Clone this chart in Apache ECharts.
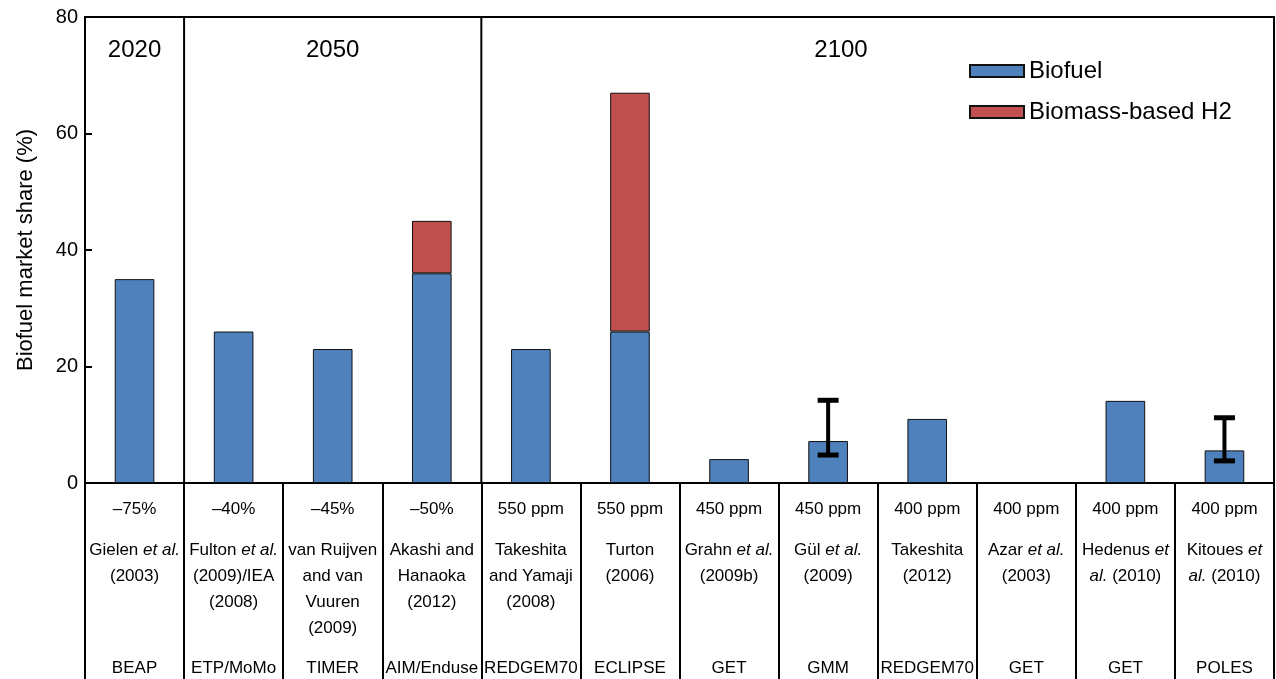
<!DOCTYPE html>
<html>
<head>
<meta charset="utf-8">
<script src="https://cdn.jsdelivr.net/npm/echarts@6/dist/echarts.min.js"></script>
<style>
  html, body { margin: 0; padding: 0; background: #fff; }
  #chart { width: 1276px; height: 679px; }
</style>
</head>
<body>
<div id="chart"></div>
<script>
const reductions = ["\u201375%", "\u201340%", "\u201345%", "\u201350%", "550 ppm", "550 ppm",
  "450 ppm", "450 ppm", "400 ppm", "400 ppm", "400 ppm", "400 ppm"];
const references = [
  "Gielen et al.\n(2003)",
  "Fulton et al.\n(2009)/IEA\n(2008)",
  "van Ruijven\nand van\nVuuren\n(2009)",
  "Akashi and\nHanaoka\n(2012)",
  "Takeshita\nand Yamaji\n(2008)",
  "Turton\n(2006)",
  "Grahn et al.\n(2009b)",
  "G\u00fcl et al.\n(2009)",
  "Takeshita\n(2012)",
  "Azar et al.\n(2003)",
  "Hedenus et\nal. (2010)",
  "Kitoues et\nal. (2010)"
];
const models = ["BEAP", "ETP/MoMo", "TIMER", "AIM/Enduse", "REDGEM70", "ECLIPSE",
  "GET", "GMM", "REDGEM70", "GET", "GET", "POLES"];

const biofuel = [35, 26, 23, 36, 23, 26, 4.1, 7.2, 11, null, 14.1, 5.6];
const hydrogen = [null, null, null, 9, null, 41, null, null, null, null, null, null];
// [category index, low, high]
const errorBars = [[7, 4.8, 14.2], [11, 3.8, 11.2]];

const sectionLabels = ["2020", "2050", "2100"];
const sectionCenters = [0.5, 2.5, 7.63];
const sectionBounds = [1, 4];

const yTicks = [0, 20, 40, 60, 80];

const font = "'Liberation Sans', Arial, sans-serif";
const idx = references.map((_, i) => String(i));

function italicize(s) {
  return s.replace(/\bet\b/g, "{i|et}").replace(/\bal\./g, "{i|al.}");
}

const tableLabel = {
  color: "#000",
  fontFamily: font,
  fontSize: 17,
  lineHeight: 26,
  interval: 0
};

const chart = echarts.init(document.getElementById("chart"));
chart.setOption({
  backgroundColor: "#fff",
  animation: false,
  grid: {
    left: 85, right: 2, top: 17, bottom: 196,
    outerBoundsMode: "none",
    show: true, borderColor: "#000", borderWidth: 2
  },
  legend: {
    orient: "vertical",
    left: 964, top: 54,
    itemWidth: 54, itemHeight: 12, itemGap: 17,
    icon: "rect",
    textStyle: { fontFamily: font, fontSize: 24, color: "#000", lineHeight: 24 },
    data: ["Biofuel", "Biomass-based H2"]
  },
  xAxis: [
    {
      type: "category", data: idx, position: "bottom",
      axisLine: { lineStyle: { color: "#000", width: 2 } },
      axisTick: { show: true, interval: 0, length: 196, lineStyle: { color: "#000", width: 2 } },
      axisLabel: Object.assign({}, tableLabel, {
        margin: 13,
        formatter: v => reductions[+v]
      })
    },
    {
      type: "category", data: idx, position: "bottom",
      axisLine: { show: false }, axisTick: { show: false },
      axisLabel: Object.assign({}, tableLabel, {
        margin: 54,
        formatter: v => italicize(references[+v]),
        rich: {
          i: { fontStyle: "italic", fontFamily: font, fontSize: 17, lineHeight: 26, color: "#000" }
        }
      })
    },
    {
      type: "category", data: idx, position: "bottom",
      axisLine: { show: false }, axisTick: { show: false },
      axisLabel: Object.assign({}, tableLabel, {
        margin: 172,
        formatter: v => models[+v]
      })
    },
    { type: "value", min: 0, max: 12, show: false }
  ],
  yAxis: {
    type: "value", min: 0, max: 80, interval: 20,
    name: "Biofuel market share (%)",
    nameLocation: "middle", nameGap: 48,
    nameTextStyle: { fontFamily: font, fontSize: 22, color: "#000" },
    axisLine: { show: true, lineStyle: { color: "#000", width: 2 } },
    axisTick: { show: true, inside: true, length: 7, lineStyle: { color: "#000", width: 2 } },
    axisLabel: {
      fontFamily: font, fontSize: 20, color: "#000", margin: 7,
      formatter: v => (yTicks.includes(v) ? String(v) : "")
    },
    splitLine: { show: false }
  },
  series: [
    {
      name: "Biofuel", type: "bar", stack: "share", data: biofuel,
      barWidth: "40%",
      itemStyle: { color: "#4F81BD", borderColor: "#111", borderWidth: 1 }
    },
    {
      name: "Biomass-based H2", type: "bar", stack: "share", data: hydrogen,
      barWidth: "40%",
      itemStyle: { color: "#C0504D", borderColor: "#111", borderWidth: 1 }
    },
    {
      type: "custom", name: "range",
      xAxisIndex: 0, yAxisIndex: 0,
      data: errorBars,
      encode: { x: 0, y: [1, 2] },
      z: 5,
      renderItem(params, api) {
        const lo = api.coord([api.value(0), api.value(1)]);
        const hi = api.coord([api.value(0), api.value(2)]);
        const half = 10.5;
        return {
          type: "group",
          children: [
            { type: "line", shape: { x1: lo[0], y1: lo[1], x2: hi[0], y2: hi[1] }, style: { stroke: "#000", lineWidth: 4 } },
            { type: "line", shape: { x1: lo[0] - half, y1: lo[1], x2: lo[0] + half, y2: lo[1] }, style: { stroke: "#000", lineWidth: 5 } },
            { type: "line", shape: { x1: hi[0] - half, y1: hi[1], x2: hi[0] + half, y2: hi[1] }, style: { stroke: "#000", lineWidth: 5 } }
          ]
        };
      }
    },
    {
      type: "custom", name: "sections",
      xAxisIndex: 3, yAxisIndex: 0,
      data: sectionLabels.map((s, i) => [sectionCenters[i], 74.3, s]),
      silent: true,
      renderItem(params, api) {
        const p = api.coord([api.value(0), api.value(1)]);
        const children = [{
          type: "text",
          style: {
            x: p[0], y: p[1], text: sectionLabels[params.dataIndex],
            fontFamily: font, fontSize: 24, fill: "#000",
            align: "center", verticalAlign: "middle"
          }
        }];
        if (params.dataIndex < sectionBounds.length) {
          const b = sectionBounds[params.dataIndex];
          const a = api.coord([b, 0]);
          const t = api.coord([b, 80]);
          children.push({
            type: "line",
            shape: { x1: a[0], y1: a[1], x2: t[0], y2: t[1] },
            style: { stroke: "#000", lineWidth: 2 }
          });
        }
        return { type: "group", children };
      }
    }
  ]
});
</script>
</body>
</html>
